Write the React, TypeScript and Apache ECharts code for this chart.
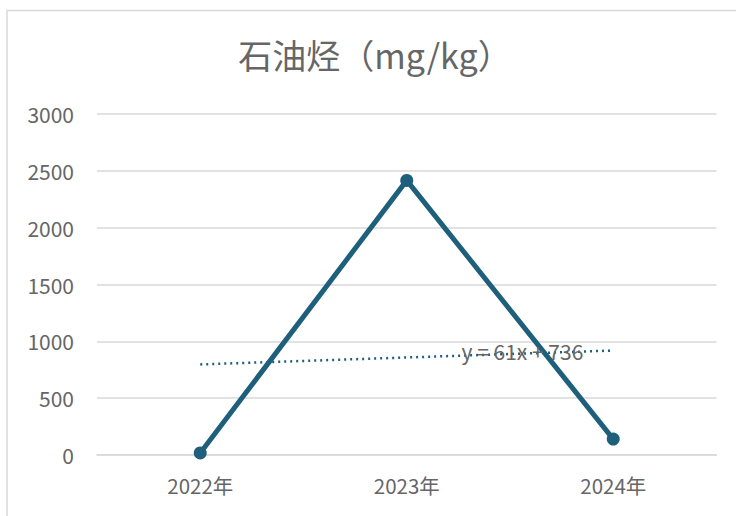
import React, { useEffect, useRef } from "react";
import * as echarts from "echarts";

const titleText = "石油烃（mg/kg）";
const categories = ["2022年", "2023年", "2024年"];
const values = [18, 2416, 140];
const yTicks = [0, 500, 1000, 1500, 2000, 2500, 3000];

// least-squares trendline (x = 1..n), as in the spreadsheet
function linearFit(ys: number[]) {
  const n = ys.length;
  const xs = ys.map((_, i) => i + 1);
  const mx = xs.reduce((a, b) => a + b, 0) / n;
  const my = ys.reduce((a, b) => a + b, 0) / n;
  let num = 0;
  let den = 0;
  xs.forEach((x, i) => {
    num += (x - mx) * (ys[i] - my);
    den += (x - mx) * (x - mx);
  });
  const slope = num / den;
  return { slope, intercept: my - slope * mx };
}

export default function App() {
  const ref = useRef<HTMLDivElement>(null);
  useEffect(() => {
    document.body.style.margin = "0";
    if (!ref.current) return;
    const chart = echarts.init(ref.current, null, { renderer: "svg" });
    const fit = linearFit(values);
    const trend = values.map((_, i) => fit.slope * (i + 1) + fit.intercept);
    const eq = `y = ${Math.round(fit.slope)}x + ${Math.round(fit.intercept)}`;
    const font = "'Noto Sans CJK SC', 'Noto Sans', sans-serif";
    const color = "#1E5F7C";
    const textColor = "#666666";
    chart.setOption({
      animation: false,
      backgroundColor: "#ffffff",
      textStyle: { fontFamily: font },
      title: {
        text: titleText,
        left: 370,
        textAlign: "center",
        top: 32,
        textStyle: { fontSize: 34, fontWeight: "normal", color: textColor, fontFamily: font },
      },
      grid: { left: 97, right: 19.5, top: 114, bottom: 61, containLabel: false },
      xAxis: {
        type: "category",
        data: categories,
        boundaryGap: true,
        axisLine: { show: true, lineStyle: { color: "#d9d9d9", width: 1.5 } },
        axisTick: { show: false },
        axisLabel: { color: textColor, fontSize: 20.5, margin: 20, fontFamily: font },
      },
      yAxis: {
        type: "value",
        min: yTicks[0],
        max: yTicks[yTicks.length - 1],
        interval: 500,
        axisLine: { show: false },
        axisTick: { show: false },
        splitLine: { lineStyle: { color: "#d9d9d9", width: 1.5 } },
        axisLabel: {
          color: textColor,
          fontSize: 21,
          margin: 23,
          fontFamily: font,
          formatter: (v: number) => String(v),
        },
      },
      series: [
        {
          type: "line",
          data: trend,
          symbol: "none",
          lineStyle: { color, width: 2.5, type: [2, 4] },
          z: 1,
        },
        {
          type: "line",
          data: values,
          symbol: "circle",
          symbolSize: 13,
          itemStyle: { color },
          lineStyle: { color, width: 5 },
          z: 3,
        },
      ],
    });
    // place the trendline label on the trendline, between 2023 and 2024
    const t = 0.56;
    const p1 = chart.convertToPixel({ gridIndex: 0 }, [1, trend[1]]) as number[];
    const p2 = chart.convertToPixel({ gridIndex: 0 }, [2, trend[2]]) as number[];
    const lx = p1[0] + (p2[0] - p1[0]) * t;
    const ly = p1[1] + (p2[1] - p1[1]) * t;
    chart.setOption({
      graphic: [
        {
          type: "rect",
          shape: { x: 7, y: 10.5, width: 800, height: 600 },
          style: { fill: "none", stroke: "#d9d9d9", lineWidth: 1.5 },
          silent: true,
          z: 0,
        },
        {
          type: "text",
          x: lx,
          y: ly - 3,
          z: 10,
          style: {
            text: eq,
            fill: textColor,
            fontSize: 21,
            fontFamily: font,
            align: "center",
            verticalAlign: "middle",
          },
        },
      ],
    });
    return () => chart.dispose();
  }, []);
  return <div ref={ref} style={{ width: 736, height: 516 }} />;
}
